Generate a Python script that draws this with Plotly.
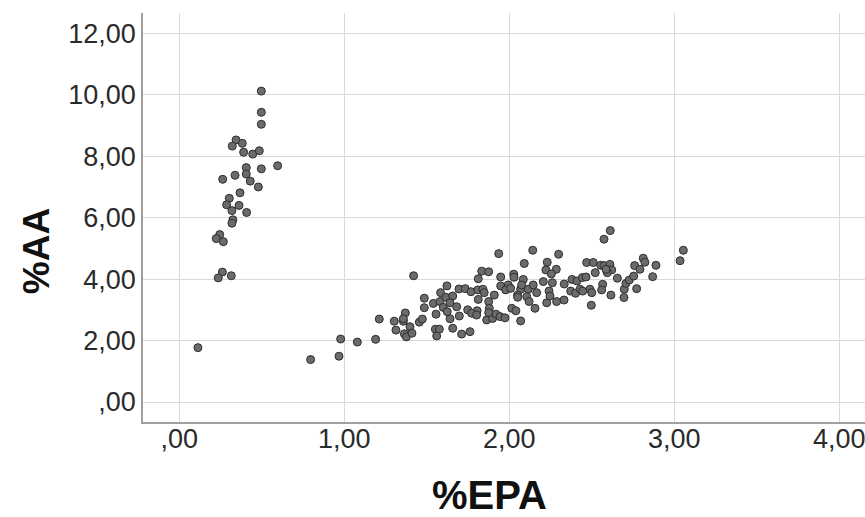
import plotly.graph_objects as go

# %EPA (x) and %AA (y) values
epa = [0.497, 0.497, 0.497, 0.344, 0.321, 0.382, 0.390, 0.445, 0.485, 0.596, 0.406, 0.497, 0.406, 0.338,
       0.263, 0.430, 0.479, 0.368, 0.303, 0.287, 0.362, 0.319, 0.408, 0.325, 0.319, 0.245, 0.224, 0.267,
       0.261, 0.236, 0.315, 0.113,
       0.796, 0.968, 0.978, 1.079, 1.190, 1.212, 1.420, 1.303, 1.358, 1.370, 1.358, 1.313, 1.398, 1.364,
       1.376, 1.410, 1.455, 1.473, 1.485, 1.485,
       1.936, 2.142, 2.091, 2.230, 1.833, 1.875, 1.812, 1.948, 2.027, 2.029, 2.085, 2.206, 1.622, 1.695,
       1.733, 1.768, 1.810, 1.840, 1.848, 1.948, 1.994, 1.978, 2.008, 2.069, 2.075, 2.115, 2.145, 2.166,
       2.050, 2.051, 2.106, 1.584, 1.540, 1.580, 1.616, 1.657, 1.641, 1.600, 1.681, 1.748, 1.812, 1.875,
       1.909, 1.879, 1.805, 1.772, 1.697, 1.624, 1.556, 1.641, 1.552, 1.576, 1.560, 1.657, 1.711, 1.762,
       1.802, 1.863, 1.899, 1.919, 1.944, 1.974, 1.875, 2.015, 2.040, 2.069, 2.120, 2.156, 2.227,
       2.612, 2.574, 3.055, 3.035, 2.299, 2.222, 2.285, 2.255, 2.261, 2.241, 2.247, 2.287, 2.332, 2.333,
       2.380, 2.410, 2.443, 2.465, 2.372, 2.402, 2.429, 2.445, 2.489, 2.500, 2.497, 2.469, 2.509, 2.554,
       2.521, 2.574, 2.610, 2.621, 2.594, 2.586, 2.655, 2.566, 2.560, 2.616, 2.697, 2.695, 2.707, 2.727,
       2.754, 2.772, 2.760, 2.792, 2.812, 2.822, 2.869, 2.889]
aa = [10.12, 9.43, 9.04, 8.53, 8.33, 8.42, 8.13, 8.07, 8.18, 7.69, 7.63, 7.59, 7.42, 7.38,
      7.25, 7.19, 7.00, 6.81, 6.63, 6.42, 6.40, 6.23, 6.17, 5.93, 5.82, 5.45, 5.32, 5.22,
      4.23, 4.04, 4.11, 1.77,
      1.38, 1.49, 2.05, 1.95, 2.04, 2.70, 4.11, 2.63, 2.63, 2.90, 2.71, 2.34, 2.45, 2.22,
      2.12, 2.24, 2.60, 2.70, 3.07, 3.38,
      4.83, 4.94, 4.51, 4.55, 4.26, 4.24, 4.01, 4.07, 4.16, 4.06, 3.99, 3.92, 3.78, 3.68,
      3.69, 3.59, 3.65, 3.67, 3.56, 3.78, 3.81, 3.65, 3.70, 3.67, 3.81, 3.67, 3.81, 3.56,
      3.48, 3.41, 3.43, 3.56, 3.21, 3.27, 3.41, 3.45, 3.23, 3.08, 3.10, 3.00, 3.34, 3.27,
      3.48, 3.05, 2.97, 2.89, 2.80, 2.94, 2.86, 2.71, 2.37, 2.37, 2.15, 2.40, 2.21, 2.29,
      2.83, 2.67, 2.72, 2.86, 2.78, 2.74, 2.91, 3.05, 2.97, 2.64, 3.27, 3.05, 3.23,
      5.58, 5.30, 4.94, 4.60, 4.81, 4.30, 4.32, 4.17, 3.88, 3.61, 3.45, 3.27, 3.32, 3.84,
      3.99, 3.94, 4.05, 4.07, 3.61, 3.54, 3.67, 3.61, 3.67, 3.56, 3.15, 4.54, 4.54, 4.45,
      4.21, 4.44, 4.48, 4.30, 4.21, 4.32, 4.03, 3.83, 3.65, 3.48, 3.67, 3.40, 3.86, 3.97,
      4.10, 3.69, 4.44, 4.32, 4.68, 4.55, 4.08, 4.45]

x_tickvals = [0, 1, 2, 3, 4]
x_ticktext = [",00", "1,00", "2,00", "3,00", "4,00"]
y_tickvals = [0, 2, 4, 6, 8, 10, 12]
y_ticktext = [",00", "2,00", "4,00", "6,00", "8,00", "10,00", "12,00"]

fig = go.Figure()
fig.add_trace(go.Scatter(
    x=epa, y=aa, mode="markers",
    marker=dict(size=8, color="#6b6b6b", line=dict(color="#2e2e2e", width=1)),
    showlegend=False, hoverinfo="skip",
))

font_family = "Liberation Sans, Arial, sans-serif"
tick_font = dict(size=27, family=font_family, color="#2a2a2a")
fig.update_layout(
    width=865, height=517,
    margin=dict(l=143, r=0, t=13, b=95),
    paper_bgcolor="white", plot_bgcolor="white",
    font=dict(family=font_family, color="#222222"),
    xaxis=dict(range=[-0.22, 4.156], tickvals=x_tickvals, ticktext=x_ticktext,
               showgrid=True, gridcolor="#d9d9d9", gridwidth=1, zeroline=False,
               showline=True, linecolor="#a0a0a0", linewidth=1.5, ticks="",
               ticklabelstandoff=-8, ticklabeloverflow="allow", tickfont=tick_font),
    yaxis=dict(range=[-0.651, 12.663], tickvals=y_tickvals, ticktext=y_ticktext,
               showgrid=True, gridcolor="#d9d9d9", gridwidth=1, zeroline=False,
               showline=True, linecolor="#a0a0a0", linewidth=1.5, ticks="",
               tickfont=tick_font),
    annotations=[
        dict(text="<b>%EPA</b>", xref="paper", yref="paper", x=0.4806, y=-0.178,
             xanchor="center", yanchor="middle", showarrow=False,
             font=dict(size=40, family=font_family, color="#111111")),
        dict(text="<b>%AA</b>", xref="paper", yref="paper", x=-0.1480, y=0.418,
             xanchor="center", yanchor="middle", showarrow=False, textangle=-90,
             font=dict(size=37, family=font_family, color="#111111")),
    ],
)

fig.write_html("out.html")
